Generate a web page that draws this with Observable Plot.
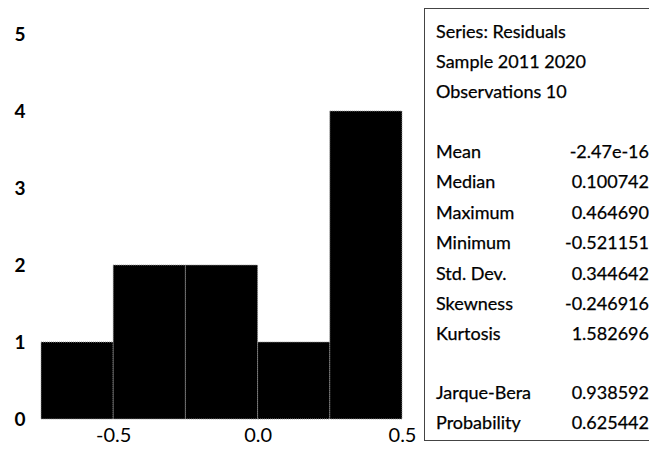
<!DOCTYPE html>
<html>
<head>
<meta charset="utf-8">
<script src="https://cdn.jsdelivr.net/npm/d3@7"></script>
<script src="https://cdn.jsdelivr.net/npm/@observablehq/plot@0.6"></script>
<style>
  html, body { margin: 0; padding: 0; background: #fff; }
  #wrap { position: relative; width: 649px; height: 450px; overflow: hidden; }
  #stats { position: absolute; left: 424px; top: 8px; width: 240px; height: 433px;
    border: 1px solid #444; box-sizing: border-box; font-family: Lato, "Open Sans", sans-serif;
    font-size: 18px; color: #000; -webkit-text-stroke: 0.25px #000; }
  #stats .row { position: absolute; left: 11px; width: 213px; height: 22px; line-height: 22px; white-space: nowrap; }
  #stats .row .v { position: absolute; right: 0; top: 0; }
  svg text { -webkit-text-stroke: 0.3px #000; }
</style>
</head>
<body>
<div id="wrap"><div id="chart"></div><div id="stats"></div></div>
<script>
// Histogram bins of residuals
const binStart = [-0.75, -0.5, -0.25, 0.0, 0.25];
const binEnd   = [-0.5, -0.25, 0.0, 0.25, 0.5];
const counts   = [1, 2, 2, 1, 4];
const xTicks = [-0.5, 0.0, 0.5];
const yTicks = [0, 1, 2, 3, 4, 5];

// Statistics panel
const headerLines = ["Series: Residuals", "Sample 2011 2020", "Observations 10"];
const statNames  = ["Mean", "Median", "Maximum", "Minimum", "Std. Dev.", "Skewness", "Kurtosis"];
const statValues = ["-2.47e-16", "0.100742", "0.464690", "-0.521151", "0.344642", "-0.246916", "1.582696"];
const testNames  = ["Jarque-Bera", "Probability"];
const testValues = ["0.938592", "0.625442"];

const bins = binStart.map((s, i) => ({x1: s, x2: binEnd[i], y: counts[i]}));

const chart = Plot.plot({
  width: 649,
  height: 450,
  marginLeft: 41,
  marginRight: 247,
  marginTop: 34,
  marginBottom: 31,
  style: {fontFamily: "Lato, 'Open Sans', sans-serif", background: "white"},
  x: {domain: [-0.75, 0.5]},
  y: {domain: [0, 5]},
  marks: [
    Plot.rectY(bins, {x1: "x1", x2: "x2", y: "y", fill: "black", stroke: "#9a9a9a", strokeWidth: 1, strokeDasharray: "1,1"}),
    Plot.axisX({ticks: xTicks, tickSize: 0, tickPadding: 8, tickFormat: d => d.toFixed(1), fontSize: 20, label: null, fill: "#000"}),
    Plot.axisY({ticks: yTicks, tickSize: 0, tickPadding: 16, tickFormat: d => String(d), fontSize: 19, fontWeight: 700, label: null, fill: "#000"})
  ]
});
document.getElementById("chart").appendChild(chart);

const stats = document.getElementById("stats");
function addRow(top, name, value) {
  const r = document.createElement("div");
  r.className = "row";
  r.style.top = top + "px";
  r.textContent = name;
  if (value !== undefined) {
    const v = document.createElement("span");
    v.className = "v";
    v.textContent = value;
    r.appendChild(v);
  }
  stats.appendChild(r);
}
// Centers of lines (relative to box top at 8): 30,60,90 ; 150..332 ; 391,421
headerLines.forEach((t, i) => addRow(30 - 8 - 11 + i * 30, t));
statNames.forEach((t, i) => addRow(150 - 8 - 11 + i * 30.4, t, statValues[i]));
testNames.forEach((t, i) => addRow(391 - 8 - 11 + i * 30, t, testValues[i]));
</script>
</body>
</html>
